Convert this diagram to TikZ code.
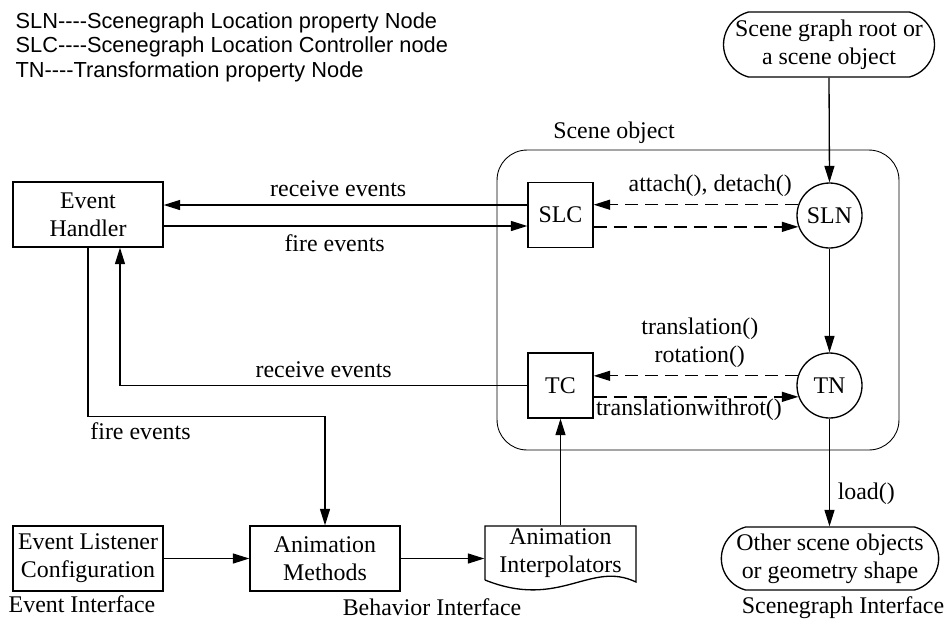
\documentclass[tikz,border=0pt]{standalone}
\usepackage{fontspec}
\setmainfont{Liberation Serif}
\newfontfamily\legendfont{Liberation Sans}
\usetikzlibrary{arrows.meta,shapes.misc}

% stili dei blocchi e delle frecce
\tikzset{
  box/.style={draw, rectangle, minimum width=3cm, minimum height=1.3cm, align=center, inner sep=1pt},
  ctrl/.style={draw, rectangle, minimum width=1.3cm, minimum height=1.3cm, inner sep=0pt},
  prop/.style={draw, circle, minimum size=1.3cm, inner sep=0pt},
  term/.style={draw, rounded rectangle, rounded rectangle arc length=150, minimum height=1.3cm, align=center, inner sep=2pt},
  arr/.style={-{Triangle[length=0.33cm,width=0.2cm]}},
  dsh/.style={arr, dash pattern=on 0.26cm off 0.14cm},
}

\begin{document}
\begin{tikzpicture}[x=0.02cm, y=-0.02cm, line width=0.75pt, font=\fontsize{13.6}{16}\selectfont]

  \useasboundingbox (0,0) rectangle (946,623);

  % Legenda
  \node[anchor=west, align=left, inner sep=0pt, font=\legendfont\fontsize{12.4}{14}\selectfont] (legend) at (15,47)
    {SLN-{}-{}-{}-Scenegraph Location property Node\\
     SLC-{}-{}-{}-Scenegraph Location Controller node\\
     TN-{}-{}-{}-Transformation property Node};

  % Oggetto di scena
  \node[draw, line width=0.5pt, rounded corners=0.6cm, minimum width=8.04cm, minimum height=6cm] (scene) at (698,300) {};
  \node (sceneLbl) at (614,133) {Scene object};

  % Blocchi
  \node[box] (evh) at (88,214.5) {Event\\Handler};
  \node[box] (elc) at (88,558.5) {Event Listener\\Configuration};
  \node[box] (anm) at (325,558.5) {Animation\\Methods};
  \node[minimum width=3.02cm, minimum height=1.08cm, inner sep=0pt, align=center] (api) at (560.5,553) {Animation\\Interpolators};
  \draw (485,580) -- (485,526) -- (636,526) -- (636,582) .. controls (590,560) and (560,610) .. (485,580);

  \node[ctrl] (slc) at (560.5,215) {SLC};
  \node[ctrl] (tc) at (560.5,385.5) {TC};
  \node[prop] (sln) at (829.5,215.5) {SLN};
  \node[prop] (tn) at (829.5,385.5) {TN};

  \node[term, minimum width=4.36cm] (root) at (829,44.5) {Scene graph root or\\a scene object};
  \node[term, minimum width=4.32cm, minimum height=1.26cm] (other) at (830,558.5) {Other scene objects\\or geometry shape};

  % Etichette delle interfacce
  \node (evIf) at (82,604) {Event Interface};
  \node (bhIf) at (432,607) {Behavior Interface};
  \node (sgIf) at (843,608) {Scenegraph Interface};

  % Grafo di scena
  \draw[arr] (root.south) -- (sln.north);
  \draw[arr] (sln.south) -- (tn.north);
  \draw[arr] (tn.south) -- (tn.south |- other.north) node[pos=0.7, right=1pt] {load()};

  % Eventi
  \coordinate (slcA) at ([yshift=0.2cm]slc.west);
  \coordinate (slcB) at ([yshift=-0.22cm]slc.west);
  \draw[arr] (slcA) -- (slcA -| evh.east) node[pos=0.52, above=1pt] {receive events};
  \draw[arr] (slcB -| evh.east) -- (slcB) node[pos=0.47, below=1pt] {fire events};
  \coordinate (evhR) at ([xshift=0.64cm]evh.south);
  \draw[arr] (tc.west) -| (evhR) node[pos=0.25, above=1pt] {receive events};
  \draw[arr] (evh.south) |- ([yshift=2.18cm]anm.north) node[pos=0.5, anchor=north west, inner sep=1pt, yshift=-2pt] {fire events} -- (anm.north);

  % Metodi del controllore
  \draw[dsh] (sln.161) -- (sln.161 -| slc.east) node[pos=0.43, above=1pt] {attach(), detach()};
  \draw[dsh] (slc.east |- sln.200) -- (sln.200);
  \draw[dsh] (tn.163) -- (tn.163 -| tc.east) node[pos=0.48, above=1pt, align=center] {translation()\\rotation()};
  \draw[dsh] (tc.east |- tn.200) -- (tn.200);
  \node[anchor=north west, inner sep=1pt] (rotLbl) at (tc.east |- tn.200) {translationwithrot()};

  % Catena di animazione
  \draw[arr] (elc.east) -- (anm.west);
  \draw[arr] (anm.east) -- (anm.east -| api.west);
  \draw[arr] (api.north) -- (tc.south);

\end{tikzpicture}
\end{document}
